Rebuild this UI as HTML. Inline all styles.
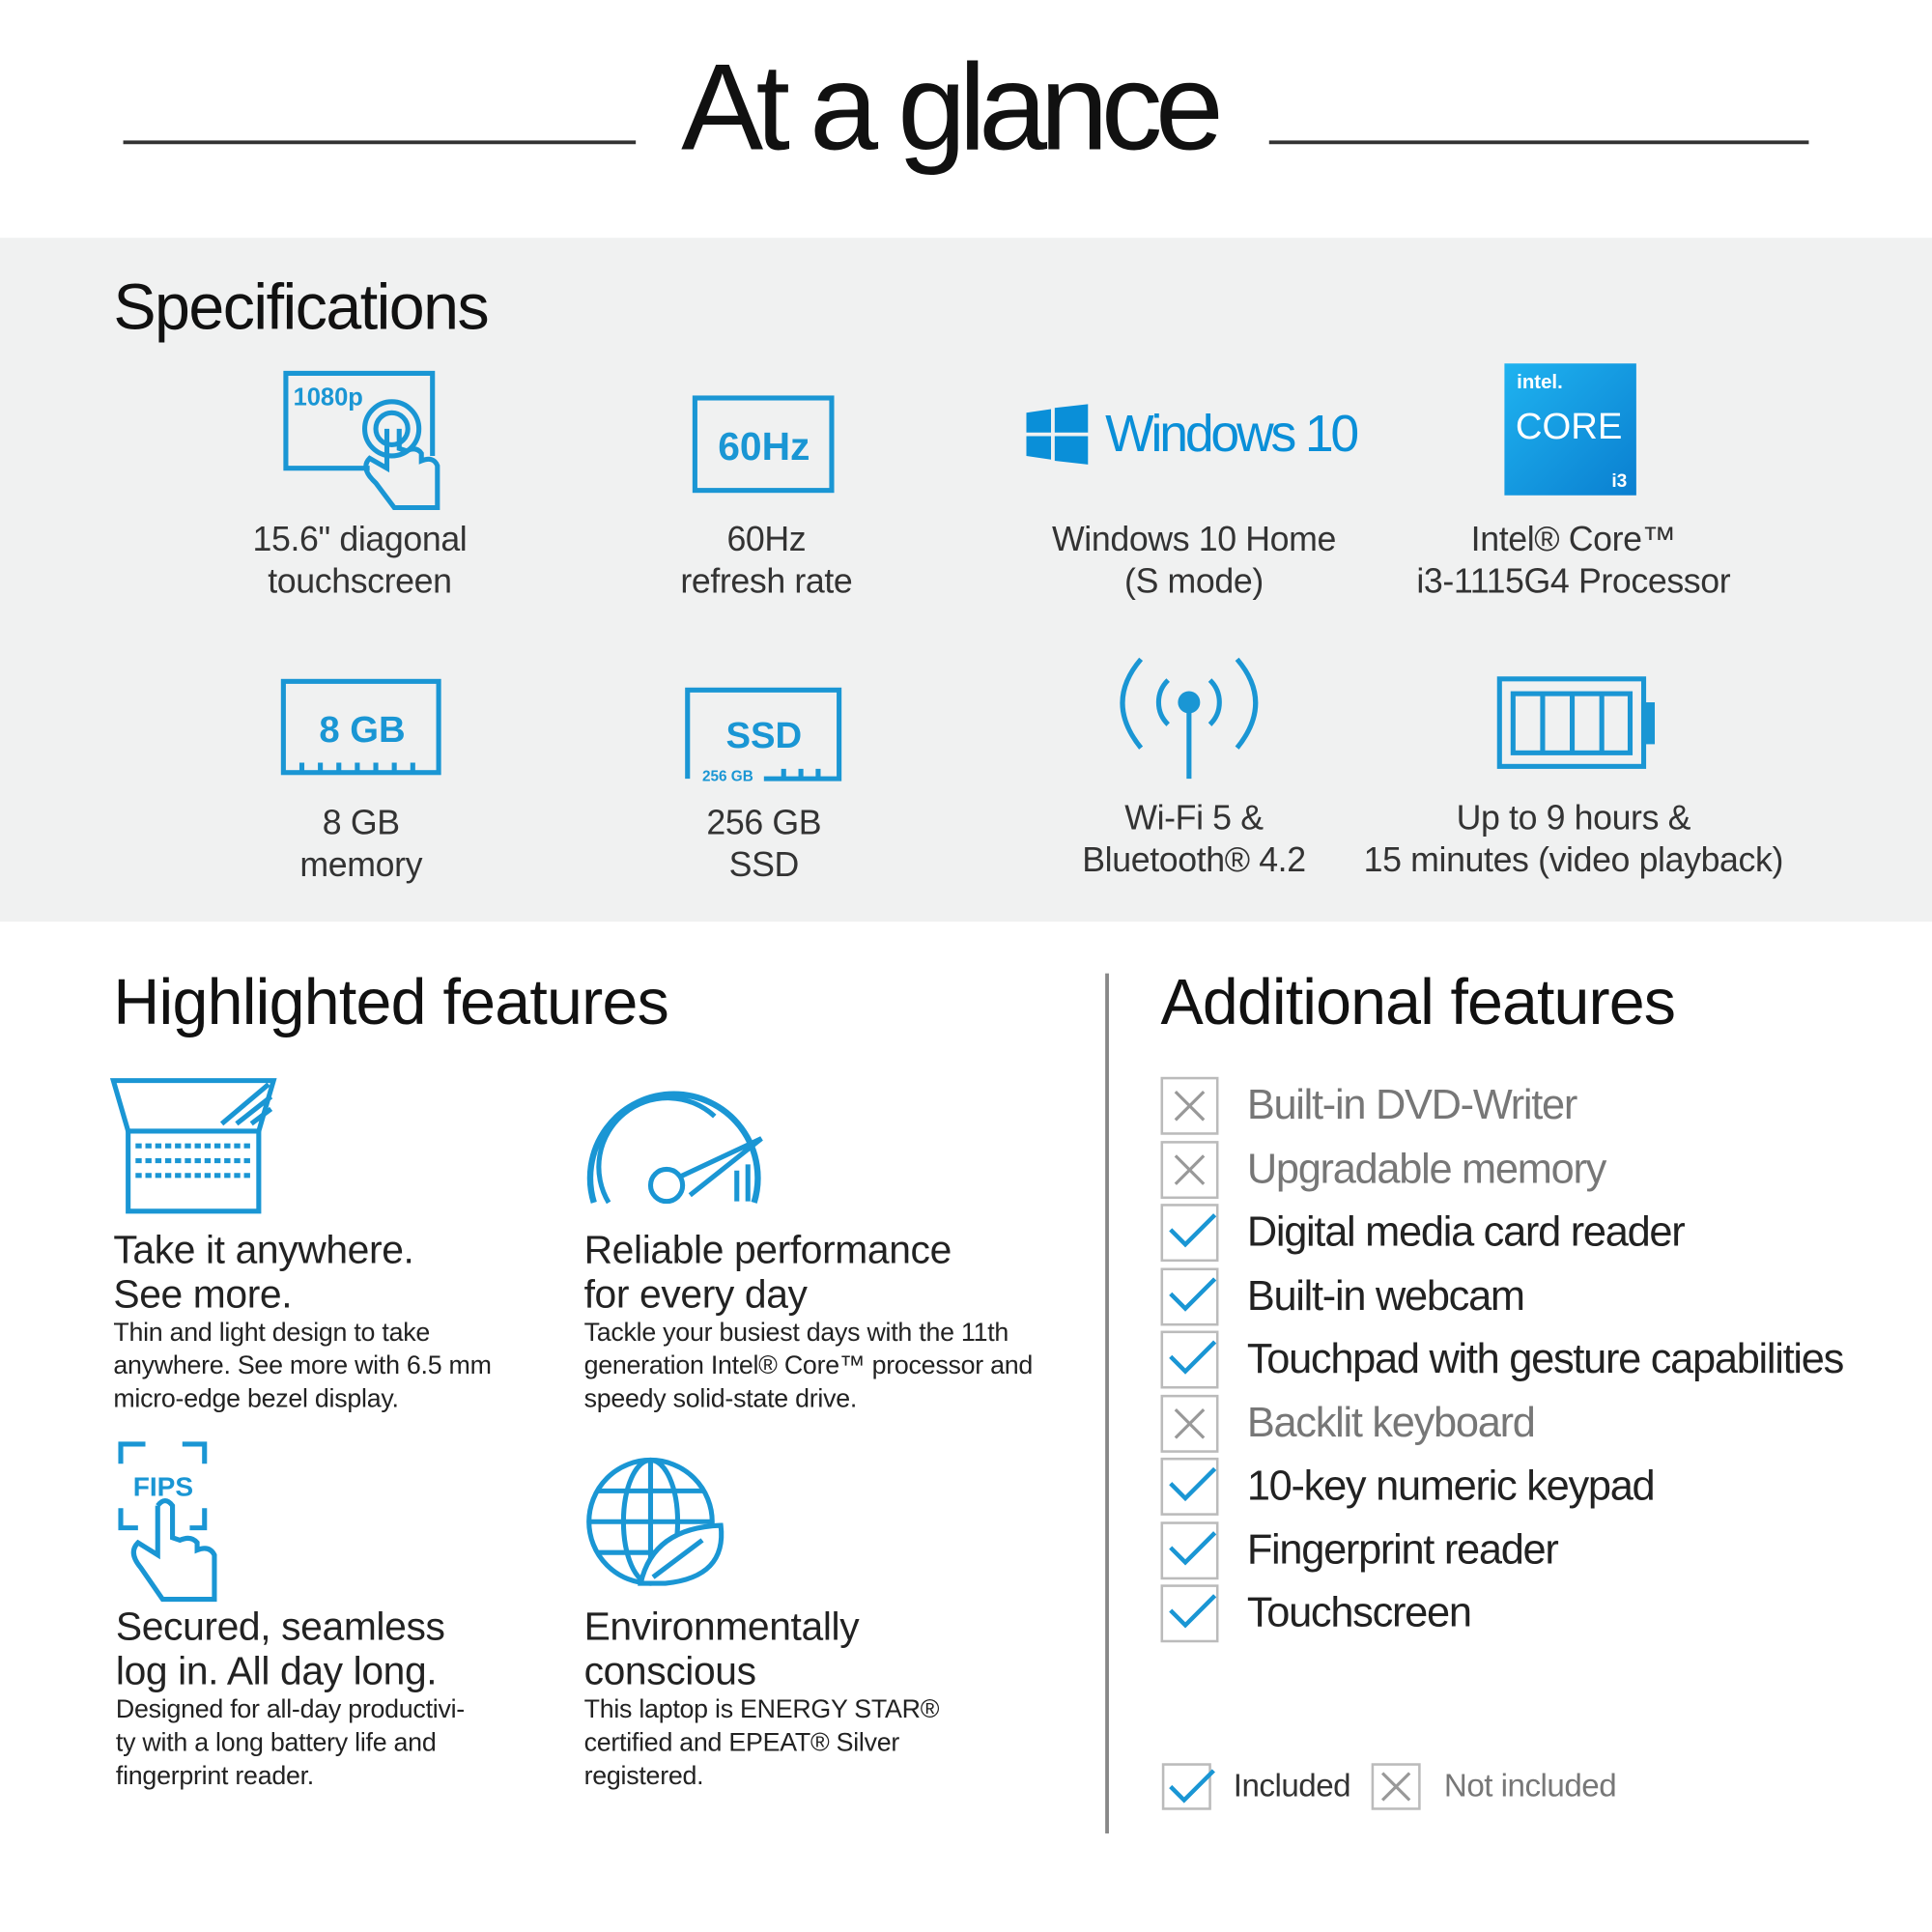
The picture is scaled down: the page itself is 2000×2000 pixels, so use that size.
<!DOCTYPE html>
<html><head><meta charset="utf-8">
<style>
html,body{margin:0;padding:0;background:#fff;}
body{width:2000px;height:2000px;overflow:hidden;}
#c{position:absolute;left:0;top:0;width:1568px;height:1568px;transform:scale(1.27551);transform-origin:0 0;font-family:"Liberation Sans",sans-serif;color:#222;}
.a{position:absolute;white-space:nowrap;}
.ctr{text-align:center;transform:translateX(-50%);}
.spec{font-size:28px;line-height:34px;color:#333;letter-spacing:-0.3px;}
.h2{font-size:52px;color:#111;}
.fh{font-size:32px;line-height:36px;color:#222;letter-spacing:-0.3px;}
.fb{font-size:21px;line-height:27px;color:#222;letter-spacing:-0.2px;}
.ck{font-size:34px;line-height:40px;letter-spacing:-1px;}
.gray{color:#777;}
svg{position:absolute;overflow:visible;}
</style></head><body><div id="c">
<div class="a ctr" style="left:770px;top:30px;font-size:100px;color:#111;letter-spacing:-6px;">At a glance</div>
<div class="a" style="left:100px;top:114px;width:416px;height:3px;background:#333"></div>
<div class="a" style="left:1030px;top:114px;width:438px;height:3px;background:#333"></div>

<div class="a" style="left:0;top:193px;width:1568px;height:555px;background:#f0f1f1"></div>
<div class="a h2" style="left:92px;top:220px;letter-spacing:-1.2px">Specifications</div>

<svg style="left:0;top:0" width="1568" height="1568" fill="none" stroke="#1a96d4" stroke-width="4">
<path d="M300 380 H232 V303 H351 V370"/>
<text x="238" y="329" font-size="20" fill="#1a96d4" stroke="none" font-weight="bold" font-family="Liberation Sans">1080p</text>
<circle cx="318" cy="348" r="22"/><circle cx="318" cy="348" r="13"/>
<path d="M314 348 V380 L300 372 Q292 380 305 392 L320 412 H355 V378 Q352 370 342 374 V368 Q338 362 330 366 L324 364 V348"/>
<rect x="564" y="323" width="111" height="75"/>
<text x="620" y="373" font-size="32" fill="#1a96d4" stroke="none" font-weight="bold" text-anchor="middle" font-family="Liberation Sans">60Hz</text>
<rect x="230" y="553" width="126" height="74"/>
<text x="294" y="602" font-size="30" fill="#1a96d4" stroke="none" font-weight="bold" text-anchor="middle" font-family="Liberation Sans">8 GB</text>
<path d="M245 627 v-8 M260 627 v-8 M275 627 v-8 M290 627 v-8 M305 627 v-8 M320 627 v-8 M335 627 v-8"/>
<path d="M558 632 V560 H681 V632 H620"/>
<text x="620" y="607" font-size="30" fill="#1a96d4" stroke="none" font-weight="bold" text-anchor="middle" font-family="Liberation Sans">SSD</text>
<text x="570" y="634" font-size="12" fill="#1a96d4" stroke="none" font-weight="bold" font-family="Liberation Sans">256 GB</text>
<path d="M636 632 v-8 M650 632 v-8 M664 632 v-8"/>
<circle cx="965" cy="570" r="7" fill="#1a96d4"/><path d="M965 575 V632"/>
<path d="M948 552 a25 25 0 0 0 0 36 M982 552 a25 25 0 0 1 0 36"/>
<path d="M926 535 q-30 35 0 72 M1004 535 q30 35 0 72"/>
<rect x="1217" y="551" width="117" height="71"/>
<rect x="1334" y="572" width="7" height="30" fill="#1a96d4"/>
<rect x="1228" y="563" width="95" height="48"/>
<path d="M1252 563 V611 M1276 563 V611 M1300 563 V611"/>
</svg>

<svg style="left:833px;top:328px" width="50" height="49"><path fill="#0a8fd8" d="M0 7 L20 4 V23 H0Z M23 3 L50 0 V23 H23Z M0 26 H20 V45 L0 42Z M23 26 H50 V49 L23 46Z"/></svg>
<div class="a" style="left:897px;top:328px;font-size:42px;color:#0a8fd8;letter-spacing:-2.5px">Windows 10</div>
<div class="a" style="left:1221px;top:295px;width:107px;height:107px;background:linear-gradient(135deg,#1fb3f0,#0a7fd0);"></div>
<div class="a" style="left:1231px;top:302px;font-size:16px;color:#fff;font-weight:bold;">intel.</div>
<div class="a" style="left:1230px;top:330px;font-size:30px;color:#fff;">CORE</div>
<div class="a" style="left:1308px;top:382px;font-size:15px;color:#fff;font-weight:bold;">i3</div>

<div class="a ctr spec" style="left:292px;top:421px;">15.6" diagonal<br>touchscreen</div>
<div class="a ctr spec" style="left:622px;top:421px;">60Hz<br>refresh rate</div>
<div class="a ctr spec" style="left:969px;top:421px;">Windows 10 Home<br>(S mode)</div>
<div class="a ctr spec" style="left:1277px;top:421px;">Intel® Core™<br>i3-1115G4 Processor</div>
<div class="a ctr spec" style="left:293px;top:651px;">8 GB<br>memory</div>
<div class="a ctr spec" style="left:620px;top:651px;">256 GB<br>SSD</div>
<div class="a ctr spec" style="left:969px;top:647px;">Wi-Fi 5 &amp;<br>Bluetooth® 4.2</div>
<div class="a ctr spec" style="left:1277px;top:647px;">Up to 9 hours &amp;<br>15 minutes (video playback)</div>

<div class="a h2" style="left:92px;top:784px;letter-spacing:-0.6px">Highlighted features</div>
<div class="a h2" style="left:942px;top:784px;letter-spacing:-0.7px">Additional features</div>
<div class="a" style="left:897px;top:790px;width:3px;height:698px;background:#888"></div>

<svg style="left:0;top:0" width="1568" height="1568" fill="none" stroke="#1a96d4" stroke-width="4">
<path d="M92 877 H222 L210 918 H104 Z"/>
<path d="M180 912 L218 880 M192 912 L220 890 M204 912 L220 900"/>
<path d="M104 918 V983 H210 V918"/>
<path d="M110 930 H204 M110 942 H204 M110 954 H204" stroke-dasharray="5 3"/>
<path d="M482 976 A68 68 0 1 1 612 976" stroke-width="5"/>
<path d="M494 976 A56 56 0 0 1 580 906"/>
<circle cx="541" cy="962" r="13"/>
<path d="M552 955 L618 924 L560 970"/>
<path d="M598 950 V975 M607 945 V975"/>
<path d="M98 1188 V1172 H118 M148 1172 H166 V1188 M98 1224 V1240 H112 M154 1240 H166 V1224"/>
<text x="108" y="1214" font-size="22" fill="#1a96d4" stroke="none" font-weight="bold" font-family="Liberation Sans">FIPS</text>
<path d="M128 1222 V1262 L112 1252 Q104 1260 114 1272 L132 1298 H174 V1262 Q170 1254 160 1258 V1252 Q155 1246 146 1250 L140 1248 V1222 Q134 1214 128 1222"/>
<circle cx="528" cy="1235" r="50"/>
<ellipse cx="528" cy="1235" rx="22" ry="50"/>
<path d="M478 1235 H578 M484 1210 H572 M484 1260 H540 M528 1185 V1285"/>
<path d="M520 1285 Q530 1240 585 1238 Q590 1280 540 1285 Z" fill="#fff"/>
<path d="M530 1280 L570 1250"/>
</svg>

<div class="a fh" style="left:92px;top:996px;">Take it anywhere.<br>See more.</div>
<div class="a fb" style="left:92px;top:1068px;">Thin and light design to take<br>anywhere. See more with 6.5 mm<br>micro-edge bezel display.</div>
<div class="a fh" style="left:474px;top:996px;">Reliable performance<br>for every day</div>
<div class="a fb" style="left:474px;top:1068px;">Tackle your busiest days with the 11th<br>generation Intel® Core™ processor and<br>speedy solid-state drive.</div>
<div class="a fh" style="left:94px;top:1302px;">Secured, seamless<br>log in. All day long.</div>
<div class="a fb" style="left:94px;top:1374px;">Designed for all-day productivi-<br>ty with a long battery life and<br>fingerprint reader.</div>
<div class="a fh" style="left:474px;top:1302px;">Environmentally<br>conscious</div>
<div class="a fb" style="left:474px;top:1374px;">This laptop is ENERGY STAR®<br>certified and EPEAT® Silver<br>registered.</div>

<svg style="left:0;top:0" width="1568" height="1568" fill="none">
<g stroke="#bbb" stroke-width="2">
<rect x="943" y="875" width="45" height="45"/><rect x="943" y="927" width="45" height="45"/>
<rect x="943" y="978" width="45" height="45"/><rect x="943" y="1030" width="45" height="45"/>
<rect x="943" y="1081" width="45" height="45"/><rect x="943" y="1133" width="45" height="45"/>
<rect x="943" y="1184" width="45" height="45"/><rect x="943" y="1236" width="45" height="45"/>
<rect x="943" y="1287" width="45" height="45"/>
<rect x="944" y="1432" width="38" height="36"/><rect x="1114" y="1432" width="38" height="36"/>
</g>
<g stroke="#999" stroke-width="2.5">
<path d="M954 886 l23 23 M977 886 l-23 23"/><path d="M954 938 l23 23 M977 938 l-23 23"/>
<path d="M954 1144 l23 23 M977 1144 l-23 23"/><path d="M1122 1439 l22 22 M1144 1439 l-22 22"/>
</g>
<g stroke="#1a96d4" stroke-width="3.5">
<path d="M950 998 l12 12 l24 -24"/><path d="M950 1050 l12 12 l24 -24"/><path d="M950 1101 l12 12 l24 -24"/>
<path d="M950 1204 l12 12 l24 -24"/><path d="M950 1256 l12 12 l24 -24"/><path d="M950 1307 l12 12 l24 -24"/>
<path d="M950 1450 l11 11 l24 -24"/>
</g>
</svg>
<div class="a ck gray" style="left:1012px;top:877px;">Built-in DVD-Writer</div>
<div class="a ck gray" style="left:1012px;top:929px;">Upgradable memory</div>
<div class="a ck" style="left:1012px;top:980px;">Digital media card reader</div>
<div class="a ck" style="left:1012px;top:1032px;">Built-in webcam</div>
<div class="a ck" style="left:1012px;top:1083px;">Touchpad with gesture capabilities</div>
<div class="a ck gray" style="left:1012px;top:1135px;">Backlit keyboard</div>
<div class="a ck" style="left:1012px;top:1186px;">10-key numeric keypad</div>
<div class="a ck" style="left:1012px;top:1238px;">Fingerprint reader</div>
<div class="a ck" style="left:1012px;top:1289px;">Touchscreen</div>
<div class="a" style="left:1001px;top:1434px;font-size:26px;color:#333;letter-spacing:-0.4px">Included</div>
<div class="a" style="left:1172px;top:1434px;font-size:26px;color:#777;letter-spacing:-0.4px">Not included</div>
</div></body></html>
